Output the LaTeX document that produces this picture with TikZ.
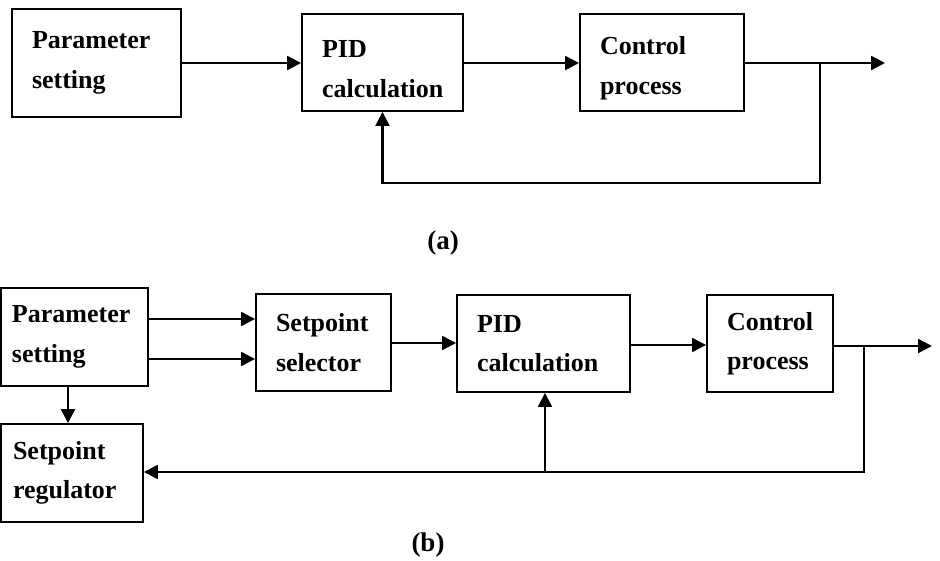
\documentclass[tikz,border=0pt]{standalone}
\usepackage{fontspec}
\setmainfont{Liberation Serif}
\usetikzlibrary{arrows.meta}
\begin{document}
\begin{tikzpicture}[x=1pt,y=-1pt,
  box/.style={draw, line width=1.9pt, rectangle, inner ysep=0pt, align=left,
    font=\bfseries\fontsize{26}{39.5}\selectfont},
  conn/.style={line width=2.3pt},
  arr/.style={conn, -{Triangle[length=14pt,width=14pt]}},
  lbl/.style={font=\bfseries\fontsize{27}{30}\selectfont, inner sep=0pt}]
\useasboundingbox (0,0) rectangle (940,561);
% (a)
\node[box, minimum width=169pt, minimum height=108pt, inner xsep=20pt, text width=129pt] (p1) at (96.5,63) {Parameter\\setting};
\node[box, minimum width=161pt, minimum height=97pt, inner xsep=20pt, text width=121pt] (pid1) at (382.5,62.5) {\rule{0pt}{30pt}PID\\calculation};
\node[box, minimum width=164pt, minimum height=97pt, inner xsep=20pt, text width=124pt] (cp1) at (662,62.5) {\rule{0pt}{30pt}Control\\process};
\coordinate (j1) at (820,63);
\coordinate (o1) at (885,63);
\coordinate (f1) at (820,183);
\draw[arr] (p1.east |- 0,63) -- (pid1.west |- 0,63);
\draw[arr] (pid1.east |- 0,63) -- (cp1.west |- 0,63);
\draw[arr] (cp1.east |- j1) -- (o1);
\draw[arr] (j1) -- (f1) -- (f1 -| pid1.south) -- (pid1.south);
\node[lbl] (la) at (443,243) {(a)};
% (b)
\node[box, minimum width=147pt, minimum height=98pt, inner xsep=11pt, text width=125pt] (p2) at (74.5,337) {Parameter\\setting};
\node[box, minimum width=142pt, minimum height=98pt, inner xsep=12pt, text width=118pt] (reg) at (72,473) {Setpoint\\regulator};
\node[box, minimum width=135pt, minimum height=97pt, inner xsep=20pt, text width=95pt] (sel) at (323.5,342.5) {Setpoint\\selector};
\node[box, minimum width=173pt, minimum height=97pt, inner xsep=20pt, text width=133pt] (pid2) at (543.5,343.5) {PID\\calculation};
\node[box, minimum width=126pt, minimum height=97pt, inner xsep=20pt, text width=86pt] (cp2) at (770,343.5) {Control\\process};
\coordinate (j2) at (864,346);
\coordinate (o2) at (932,346);
\coordinate (f2) at (864,472);
\coordinate (b2) at (545,472);
\draw[arr] (p2.east |- 0,319) -- (sel.west |- 0,319);
\draw[arr] (p2.east |- 0,359) -- (sel.west |- 0,359);
\draw[arr] ([xshift=-6.5pt]p2.south) -- ([xshift=-4pt]reg.north);
\draw[arr] (sel.east |- 0,343) -- (pid2.west |- 0,343);
\draw[arr] (pid2.east |- 0,345) -- (cp2.west |- 0,345);
\draw[arr] (cp2.east |- j2) -- (o2);
\draw[arr] (j2) -- (f2) -- (reg.east |- f2);
\draw[arr] (b2) -- (b2 |- pid2.south);
\node[lbl] (lb) at (428,545) {(b)};
\end{tikzpicture}
\end{document}
